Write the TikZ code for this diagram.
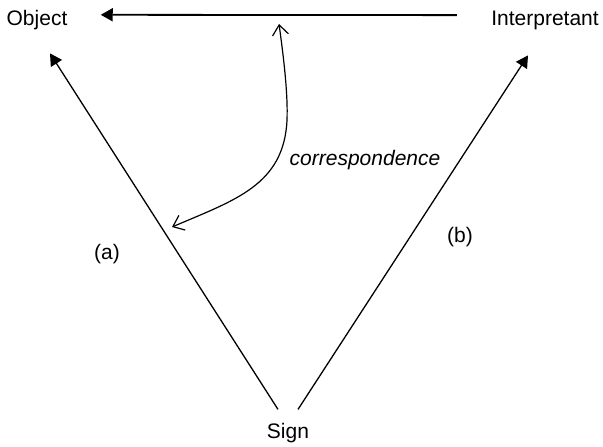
\documentclass[tikz,border=0pt]{standalone}
\usepackage{fontspec}
\setmainfont{Liberation Sans}
\usetikzlibrary{arrows.meta}

\begin{document}
\begin{tikzpicture}[x=0.5pt, y=-0.5pt,
    every node/.style={font=\fontsize{10.5}{12}\selectfont, inner sep=0pt, anchor=base},
    relation/.style={-{Triangle[length=6pt,width=6.5pt]}, line width=0.65pt},
    corrline/.style={{Straight Barb[length=5pt,width=8pt]}-{Straight Barb[length=5pt,width=8pt]}, line width=0.6pt}]
        \useasboundingbox (0,0) rectangle (603,446);
        % Nodes
        \node (object) at (37,25) {Object};
        \node (interp) at (545,25) {Interpretant};
        \node (sign) at (288,438) {Sign};
        \node (corr) at (365,165) {\itshape correspondence};
        \node (a) at (107,259) {(a)};
        \node (b) at (460,242) {(b)};
        \coordinate (ctop) at (279,24);
        \coordinate (cbot) at (172,227);

        % Edges
        \draw[relation, line width=0.9pt, shorten <=17pt, shorten >=16.5pt] ([yshift=2.4pt]interp.west) -- ([yshift=2.4pt]object.east);
        \draw[relation] ([xshift=-5pt, yshift=6.5pt]sign.north) -- ([xshift=6.5pt, yshift=-11.8pt]object.south);
        \draw[relation] ([xshift=5pt, yshift=6.5pt]sign.north) -- ([xshift=-8.5pt, yshift=-12.8pt]interp.south);
        \draw[corrline] (cbot) .. controls (235,200) and (284,185) .. (287,120) .. controls (288,95) and (284,60) .. (ctop);
    \end{tikzpicture}
\end{document}
